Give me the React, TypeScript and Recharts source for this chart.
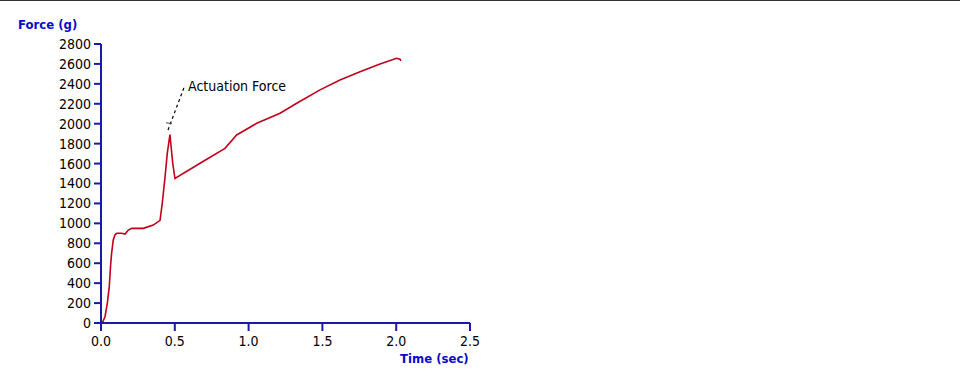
import { Line, LineChart, ReferenceDot, ReferenceLine, XAxis, YAxis } from "recharts"

// force trace (time in sec, force in grams)
const timeSec = [
  0, 0.013, 0.027, 0.043, 0.056, 0.066, 0.072, 0.083, 0.095, 0.106, 0.14, 0.163, 0.185, 0.208,
  0.287, 0.354, 0.4, 0.415, 0.434, 0.449, 0.467, 0.486, 0.501, 0.671, 0.84, 0.919, 1.055, 1.213,
  1.326, 1.484, 1.619, 1.755, 1.89, 2.003, 2.026, 2.032,
]
const forceG = [
  0, 15, 63, 200, 365, 600, 700, 833, 885, 900, 900, 893, 933, 950,
  950, 983, 1030, 1200, 1468, 1703, 1890, 1603, 1450, 1603, 1753, 1887, 2004, 2105,
  2205, 2340, 2439, 2522, 2599, 2657, 2647, 2630,
]

const xTicks = [0, 0.5, 1, 1.5, 2, 2.5]
const yTicks = [0, 200, 400, 600, 800, 1000, 1200, 1400, 1600, 1800, 2000, 2200, 2400, 2600, 2800]

const annotationText = "Actuation Force"
const annotationStart = { x: 0.454, y: 1937 }
const annotationEnd = { x: 0.569, y: 2389 }
const cursorStart = { x: 0.44, y: 2010 }
const cursorEnd = { x: 0.48, y: 2000 }

const data = timeSec.map((t, i) => ({ t, force: forceG[i] }))

const FONT = "'DejaVu Sans Condensed', 'Liberation Sans', sans-serif"
const AXIS = "#1a1aa8"
const LABEL = "#0a0acc"

export default function App() {
  return (
    <div style={{ position: "fixed", left: 0, top: 0, width: 960, height: 380, background: "#fff", fontFamily: FONT }}>
      <div style={{ position: "absolute", left: 0, top: 0, width: 960, height: 1, background: "#333" }} />
      <div style={{ position: "absolute", left: 18, top: 17, fontSize: 13, fontWeight: "bold", color: LABEL }}>
        Force (g)
      </div>
      <div style={{ position: "absolute", left: 400, top: 351, fontSize: 13, fontWeight: "bold", color: LABEL }}>
        Time (sec)
      </div>
      <LineChart
        width={960}
        height={380}
        data={data}
        margin={{ top: 44, right: 490, bottom: 0, left: 0 }}
      >
        <XAxis
          dataKey="t"
          type="number"
          domain={[0, 2.5]}
          ticks={xTicks}
          interval={0}
          tickFormatter={(v) => v.toFixed(1)}
          stroke={AXIS}
          strokeWidth={2}
          tickSize={8}
          tickMargin={5}
          tick={{ fill: "#000", fontSize: 14, fontFamily: FONT }}
          height={57}
        />
        <YAxis
          type="number"
          domain={[0, 2800]}
          ticks={yTicks}
          interval={0}
          stroke={AXIS}
          strokeWidth={2}
          tickSize={7}
          tickMargin={3}
          width={101}
          tick={{ fill: "#000", fontSize: 14, fontFamily: FONT }}
        />
        <ReferenceLine
          segment={[annotationStart, annotationEnd]}
          stroke="#000"
          strokeDasharray="3 3"
          strokeWidth={1.2}
        />
        <ReferenceLine segment={[cursorStart, cursorEnd]} stroke="#444" strokeWidth={1} />
        <ReferenceDot
          x={0.549}
          y={2383}
          r={1}
          fill="none"
          stroke="none"
          label={{ value: annotationText, position: "right", offset: 5, fill: "#000", fontSize: 14, fontFamily: FONT }}
        />
        <Line
          type="linear"
          dataKey="force"
          stroke="#c0001a"
          strokeWidth={1.6}
          dot={false}
          isAnimationActive={false}
        />
      </LineChart>
    </div>
  )
}
